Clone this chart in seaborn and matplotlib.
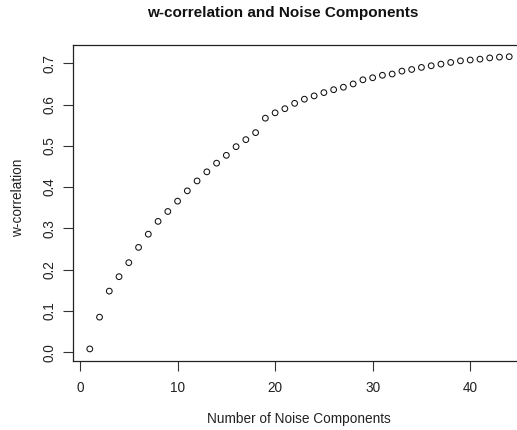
import numpy as np
import pandas as pd
import matplotlib
matplotlib.use("Agg")
import matplotlib.pyplot as plt
import seaborn as sns

components = list(range(1, 45))
wcorr = [0.008, 0.085, 0.148, 0.183, 0.217, 0.254, 0.286, 0.317, 0.341, 0.366,
         0.391, 0.415, 0.437, 0.458, 0.477, 0.498, 0.515, 0.532, 0.567, 0.580,
         0.590, 0.603, 0.613, 0.621, 0.629, 0.636, 0.642, 0.650, 0.660, 0.665,
         0.671, 0.674, 0.681, 0.685, 0.690, 0.694, 0.698, 0.702, 0.706, 0.708,
         0.710, 0.713, 0.715, 0.716]
xticks = [0, 10, 20, 30, 40]
yticks = [0.0, 0.1, 0.2, 0.3, 0.4, 0.5, 0.6, 0.7]

sns.set_style("white")
plt.rcParams['font.family'] = ['Liberation Sans', 'DejaVu Sans']

df = pd.DataFrame({"n": components, "w": wcorr})

W, H = 517, 430
fig = plt.figure(figsize=(W / 100, H / 100), dpi=100)
left, right, top, bottom = 73, 526, 45, 360.6
ax = fig.add_axes([left / W, 1 - bottom / H, (right - left) / W, (bottom - top) / H])

sns.scatterplot(data=df, x="n", y="w", ax=ax, marker="o", s=17,
                facecolors="none", edgecolor="#111111", linewidth=0.75, legend=False)

ax.set_xlim(-0.72, 45.72)
ax.set_ylim(-0.0203, 0.7443)
ax.set_xticks(xticks)
ax.set_yticks(yticks)
ax.set_xticklabels([str(v) for v in xticks])
ax.set_yticklabels([f"{v:.1f}" for v in yticks], rotation=90, va="center")
ax.tick_params(axis="both", direction="out", length=7, width=0.8, color="#333333",
               labelsize=9.8, labelcolor="#222222", left=True, bottom=True, pad=5)
ax.tick_params(axis="x", pad=8)
for sp in ax.spines.values():
    sp.set_visible(True)
    sp.set_color("#222222")
    sp.set_linewidth(0.9)

ax.set_xlabel("")
ax.set_ylabel("")
fig.text(299 / W, 1 - 419 / H, "Number of Noise Components", ha="center", va="center",
         fontsize=9.8, color="#222222")
fig.text(18 / W, 1 - 198 / H, "w-correlation", ha="center", va="center", rotation=90,
         fontsize=9.8, color="#222222")
fig.text(283 / W, 1 - 13 / H, "w-correlation and Noise Components", ha="center",
         va="center", fontsize=11, fontweight="bold", color="#111111")

fig.savefig("out.png", dpi=100)
